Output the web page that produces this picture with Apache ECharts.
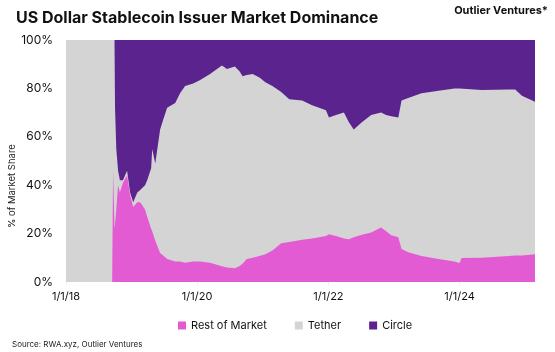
<!DOCTYPE html>
<html>
<head>
<meta charset="utf-8">
<script src="https://cdn.jsdelivr.net/npm/echarts@6/dist/echarts.min.js"></script>
<style>
  html, body { margin: 0; padding: 0; background: #fff; }
  #main { width: 555px; height: 352px; }
</style>
</head>
<body>
<div id="main"></div>
<script>
// dates of the readings
var dates = [
  '2018-01-01','2018-09-15','2018-09-20','2018-09-28','2018-10-01','2018-10-08','2018-10-18','2018-10-28',
  '2018-11-14','2018-12-07','2018-12-24','2019-01-10','2019-02-02','2019-02-18','2019-03-17','2019-03-29',
  '2019-04-20','2019-04-26','2019-05-13','2019-06-09','2019-06-26','2019-07-18','2019-09-01','2019-09-28',
  '2019-10-26','2019-12-10','2020-01-18','2020-03-13','2020-05-18','2020-06-15','2020-07-29','2020-08-25',
  '2020-09-10','2020-10-03','2020-11-05','2020-12-13','2021-01-15','2021-02-23','2021-04-13','2021-05-28',
  '2021-08-08','2021-10-02','2021-11-10','2021-12-18','2022-01-04','2022-02-12','2022-03-28','2022-04-25',
  '2022-05-22','2022-07-06','2022-08-27','2022-10-21','2022-11-18','2022-12-17','2023-01-25','2023-02-01',
  '2023-02-12','2023-03-21','2023-06-03','2023-09-06','2023-12-04','2024-01-01','2024-01-12','2024-05-04',
  '2024-10-02','2024-11-06','2024-12-13','2025-02-24'
];
// % share, rest of market (bottom)
var rest = [
  0,0,46,22,24,30,40,37,
  41,44,36,31,33,33,30,27,
  22,21,17,12,11,9.5,8.5,8.5,
  8,8.5,8.5,8,6.5,6,5.7,6.6,
  7.5,9.5,10,10.7,11.5,13,16,16.5,
  17.5,18,18.5,19,19.7,19,18,17.7,
  18.5,19.5,20.5,22.5,21,19.3,18.5,18,
  13.6,12.3,10.7,9.5,8.5,7.8,9.9,10,
  10.7,11,11,11.5
];
// % share, tether (middle)
var tether = [
  100,100,54,78,48,25,6,5,
  1,2,1,2,4,5,10,15,
  25,34,32,51,56,62.5,65.5,69.5,
  73,73.5,75,78,83,82,83.3,80.4,
  77.5,76,76,73.8,71,68,62.5,59,
  57.5,55,53.5,52,48.3,50,52,48.3,
  44.5,46.5,48.5,47.5,48,49.2,49.5,50,
  61.4,63.7,67.3,69.5,71.5,72.2,69.6,69.3,
  68.8,68.5,66,63
];
// % share, circle (top)
var circle = [
  0,0,0,0,28,45,54,58,
  58,54,63,67,63,62,60,58,
  53,45,51,37,33,28,26,22,
  19,18,16.5,14,10.5,12,11,13,
  15,14.5,14,15.5,17.5,19,21.5,24.5,
  25,27,28,29,32,31,30,34,
  37,34,31,30,31,31.5,32,32,
  25,24,22,21,20,20,20.5,20.7,
  20.5,20.5,23,25.5
];
var xTicks = ['2018-01-01','2020-01-01','2022-01-01','2024-01-01'];

function toTime(s) {
  var p = s.split('-');
  return Date.UTC(+p[0], +p[1] - 1, +p[2]);
}

// cumulative tops of each band, drawn back to front
var restTop = dates.map(function (d, i) { return [toTime(d), rest[i]]; });
var tetherTop = dates.map(function (d, i) { return [toTime(d), rest[i] + tether[i]]; });
var circleTop = dates.map(function (d, i) { return [toTime(d), rest[i] + tether[i] + circle[i]]; });

var chart = echarts.init(document.getElementById('main'));
var font = 'Inter, "Noto Sans", sans-serif';

function area(name, color, data, z) {
  return {
    name: name,
    type: 'line',
    z: z,
    symbol: 'none',
    lineStyle: { width: 0 },
    areaStyle: { color: color, opacity: 1 },
    itemStyle: { color: color },
    data: data
  };
}

chart.setOption({
  animation: false,
  textStyle: { fontFamily: font },
  title: {
    text: 'US Dollar Stablecoin Issuer Market Dominance',
    left: 11, top: 5,
    textStyle: { fontSize: 16, fontWeight: 'bold', color: '#111', fontFamily: font }
  },
  graphic: [
    { type: 'text', right: 7, top: 5,
      style: { text: 'Outlier Ventures*', fill: '#111', font: 'bold 11px ' + font } },
    { type: 'text', left: 12, top: 341,
      style: { text: 'Source: RWA.xyz, Outlier Ventures', fill: '#222', font: '8px ' + font } },
    { type: 'text', x: 7, y: 228, rotation: Math.PI / 2,
      style: { text: '% of Market Share', fill: '#222', font: '9.5px ' + font } }
  ],
  legend: {
    left: 173, top: 315,
    icon: 'rect', itemWidth: 8, itemHeight: 8, itemGap: 28,
    data: ['Rest of Market', 'Tether', 'Circle'],
    textStyle: { fontSize: 11, color: '#111', fontFamily: font }
  },
  grid: { left: 66, right: 20, top: 40, bottom: 70, containLabel: false },
  xAxis: {
    type: 'value',
    min: toTime(dates[0]),
    max: toTime(dates[dates.length - 1]),
    axisLine: { show: false },
    axisTick: { show: true, length: 3, lineStyle: { color: '#eee' }, customValues: xTicks.map(toTime) },
    splitLine: { show: false },
    axisLabel: {
      customValues: xTicks.map(toTime),
      fontSize: 11, color: '#111', margin: 9,
      formatter: function (v) {
        var d = new Date(v);
        return (d.getUTCMonth() + 1) + '/' + d.getUTCDate() + '/' + String(d.getUTCFullYear()).slice(2);
      }
    }
  },
  yAxis: {
    type: 'value',
    min: 0, max: 100, interval: 20,
    axisLine: { show: false },
    axisTick: { show: false },
    splitLine: { show: false },
    axisLabel: { fontSize: 12, color: '#111', margin: 13, formatter: '{value}%' }
  },
  series: [
    area('Circle', '#5a238d', circleTop, 1),
    area('Tether', '#d4d4d4', tetherTop, 2),
    area('Rest of Market', '#e35bd3', restTop, 3)
  ]
});
</script>
</body>
</html>
